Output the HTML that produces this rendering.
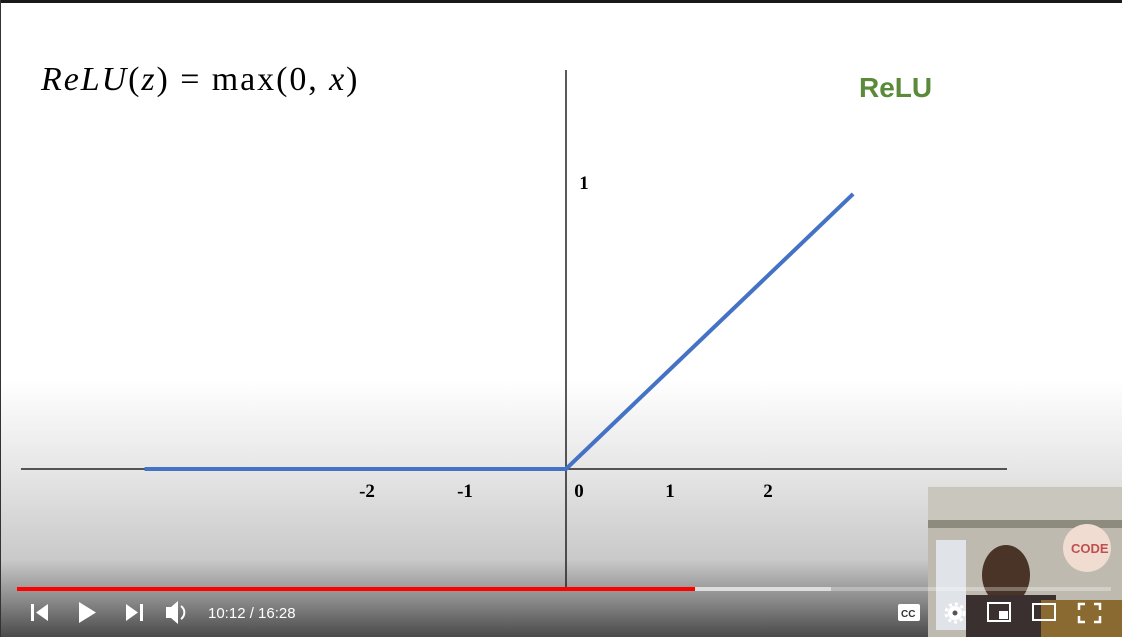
<!DOCTYPE html>
<html><head><meta charset="utf-8"><style>
body{margin:0;width:1122px;height:637px;overflow:hidden;font-family:"Liberation Sans",sans-serif}
#wrap{position:relative;width:1122px;height:637px;background:linear-gradient(#fff 0,#fff 380px,#e6e6e6 470px,#c9c9c9 560px,#8a8a8a 600px,#4a4a4a 637px);border-left:1px solid #333;box-sizing:border-box}
.top{position:absolute;left:0;top:0;width:1122px;height:3px;background:#1a1a1a}
</style></head><body>
<div id="wrap">
<div class="top"></div>
<svg width="1122" height="637" style="position:absolute;left:0;top:0">
<text x="40" y="90" font-family="Liberation Serif,serif" font-size="34" letter-spacing="1.5" textLength="318" font-style="italic">ReLU<tspan font-style="normal">(</tspan>z<tspan font-style="normal">) = max(0, </tspan>x<tspan font-style="normal">)</tspan></text>
<text x="858" y="97" font-size="28" font-weight="bold" fill="#5a8a3a">ReLU</text>
<g id="axes"></g><g id="series"></g>
<g>
<rect x="927" y="487" width="195" height="150" fill="#bfbab0"/>
<rect x="927" y="487" width="195" height="40" fill="#c9c6bd"/>
<rect x="927" y="520" width="195" height="8" fill="#8d8a7e"/>
<rect x="935" y="540" width="30" height="90" fill="#e0e4e8"/>
<circle cx="1086" cy="548" r="24" fill="#f0dcd0"/>
<text x="1070" y="553" font-size="13" font-weight="bold" fill="#c05050">CODE</text>
<ellipse cx="1005" cy="575" rx="24" ry="30" fill="#4a3428"/>
<rect x="965" y="595" width="90" height="42" fill="#3a3030"/>
<rect x="1040" y="600" width="82" height="37" fill="#8a6a30"/>
</g>
<g>
<rect x="16" y="587" width="1094" height="4" fill="rgba(255,255,255,0.3)"/>
<rect x="16" y="587" width="814" height="4" fill="rgba(230,230,230,0.8)"/>
<rect x="16" y="587" width="678" height="4" fill="#f00"/>
</g>
<g fill="#fff">
<g><rect x="30" y="604" width="3" height="17"/><path d="M47 604 L35 612.5 L47 621Z"/></g>
<path d="M78 602 L95 612.5 L78 623Z"/>
<g><path d="M125 604 L137 612.5 L125 621Z"/><rect x="139" y="604" width="3" height="17"/></g>
<g><path d="M165 607 h5 l7 -6 v23 l-7 -6 h-5z"/><path d="M180 606 a8 8 0 0 1 0 13" stroke="#fff" stroke-width="2" fill="none"/></g>
<text x="207" y="618" font-size="15">10:12 / 16:28</text>
<g><rect x="897" y="604" width="22" height="17" rx="2"/><text x="900" y="617" font-size="10" fill="#333" font-weight="bold">CC</text></g>
<g><circle cx="954" cy="613" r="7"/><circle cx="954" cy="613" r="9" fill="none" stroke="#fff" stroke-width="3" stroke-dasharray="3 3"/><circle cx="954" cy="613" r="2.5" fill="#555"/></g>
<g><rect x="987" y="603" width="22" height="18" fill="none" stroke="#fff" stroke-width="2"/><rect x="998" y="611" width="9" height="8"/></g>
<rect x="1032" y="604" width="22" height="16" fill="none" stroke="#fff" stroke-width="2"/>
<path d="M1078 610v-6h6M1093 604h6v6M1099 616v6h-6M1084 622h-6v-6" stroke="#fff" stroke-width="2.5" fill="none"/>
</g>
</svg>
</div>
<script>
const xTicks=[-2,-1,0,1,2];
const yTicks=[1];
const reluX=[-4.3,0,2.93];
const reluY=[0,0,0.955];
const ox=565,oy=469,ux=98,uy=288;
const sx=v=>ox+v*ux, sy=v=>oy-v*uy;
const NS="http://www.w3.org/2000/svg";
const ax=document.getElementById('axes');
function mk(t,a,p){const e=document.createElementNS(NS,t);for(const k in a)e.setAttribute(k,a[k]);p.appendChild(e);return e;}
const xa=mk('line',{x1:20,y1:oy,x2:1006,y2:oy,stroke:'#222','stroke-width':1.5},ax);


const ya=mk('line',{x1:ox,y1:70,x2:ox,y2:587,stroke:'#222','stroke-width':1.5},ax);


xTicks.forEach(v=>{const t=mk('text',{x:sx(v)+(v===0?13:v<0?-3:6),y:497,'font-family':'Liberation Serif,serif','font-size':19,'font-weight':'bold','text-anchor':'middle'},ax);t.textContent=v;

});
yTicks.forEach(v=>{const t=mk('text',{x:ox+18,y:sy(v)+8,'font-family':'Liberation Serif,serif','font-size':19,'font-weight':'bold','text-anchor':'middle'},ax);t.textContent=v;

});
const pl=mk('polyline',{points:reluX.map((x,i)=>sx(x)+','+sy(reluY[i])).join(' '),fill:'none',stroke:'#4472c4','stroke-width':4},document.getElementById('series'));


</script>
</body></html>
